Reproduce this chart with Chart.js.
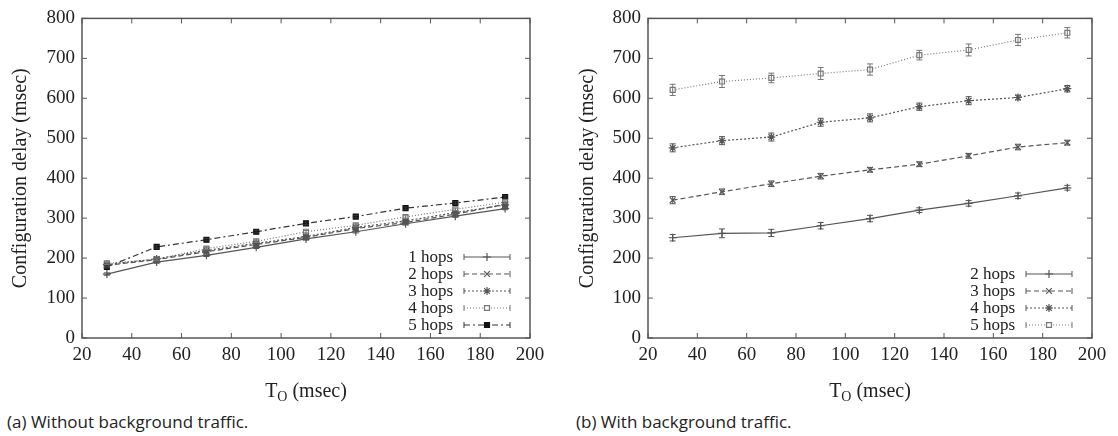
<!DOCTYPE html>
<html>
<head>
<meta charset="utf-8">
<script src="https://cdn.jsdelivr.net/npm/chart.js@4.4.1/dist/chart.umd.min.js"></script>
<style>
  html, body { margin: 0; padding: 0; background: #fff; }
  #wrap { position: relative; width: 1118px; height: 436px; overflow: hidden; }
  .panel { position: absolute; top: 0; width: 559px; height: 408px; }
  .caption { position: absolute; top: 410px; font: 17px "Open Sans", sans-serif; color: #222; line-height: 23px; }
</style>
</head>
<body>
<div id="wrap">
  <div class="panel" style="left:0"><canvas id="chart-a"></canvas></div>
  <div class="panel" style="left:559px"><canvas id="chart-b"></canvas></div>
  <div class="caption" style="left:7px">(a) Without background traffic.</div>
  <div class="caption" style="left:576px">(b) With background traffic.</div>
</div>
<script>
// T_O values (msec)
const toValues = [30, 50, 70, 90, 110, 130, 150, 170, 190];

// (a) no background traffic
const quiet1 = [160, 190, 207, 227, 248, 266, 286, 305, 324];
const quiet2 = [182, 196, 216, 234, 252, 274, 289, 310, 335];
const quiet3 = [184, 198, 219, 237, 254, 277, 293, 314, 333];
const quiet4 = [187, 197, 224, 242, 266, 282, 303, 322, 340];
const quiet5 = [178, 228, 246, 266, 287, 304, 325, 338, 353];
const quietErr = [3, 3, 3, 3, 3, 3, 3, 3, 3];

// (b) with background traffic
const busy2 = [251, 262, 263, 281, 299, 320, 337, 356, 376];
const busy3 = [345, 366, 386, 405, 421, 435, 456, 478, 489];
const busy4 = [476, 494, 503, 540, 551, 579, 594, 602, 624];
const busy5 = [621, 642, 651, 662, 672, 708, 721, 746, 764];
const busy2Err = [8, 11, 9, 8, 8, 6, 7, 7, 6];
const busy3Err = [9, 7, 7, 7, 6, 6, 6, 7, 6];
const busy4Err = [10, 10, 10, 10, 10, 9, 10, 6, 8];
const busy5Err = [14, 15, 12, 15, 14, 12, 15, 14, 13];

const SERIF = '"Liberation Serif", serif';
Chart.defaults.font.family = SERIF;
Chart.defaults.color = '#222';

// line styles, gnuplot-ish
const styles = {
    solid:   { dash: [],            point: 'cross',    fill: '#444', color: '#555' },
    dashed:  { dash: [5, 3],        point: 'crossRot', fill: '#444', color: '#555' },
    dotted:  { dash: [2, 2],        point: 'star',     fill: '#444', color: '#555' },
    fine:    { dash: [1, 2],        point: 'rect',     fill: '#fff', color: '#777' },
    dashdot: { dash: [6, 3, 2, 3],  point: 'rect',     fill: '#111', color: '#333' }
};

function series(label, values, errors, style) {
    const s = styles[style];
    return {
        label: label,
        data: toValues.map((x, i) => ({ x: x, y: values[i] })),
        errors: errors,
        borderColor: s.color,
        borderWidth: 1.2,
        borderDash: s.dash,
        pointStyle: s.point,
        pointRadius: s.point === 'rect' ? 3.5 : 4,
        pointBorderColor: s.point === 'rect' && s.fill === '#111' ? '#111' : s.color,
        pointBackgroundColor: s.fill,
        pointBorderWidth: 1.2,
        tension: 0
    };
}

// error bars, inward ticks, frame, legend and x title
const gnuplotLook = {
    id: 'gnuplotLook',
    afterDatasetsDraw(chart) {
        const ctx = chart.ctx;
        const xs = chart.scales.x, ys = chart.scales.y;
        ctx.save();
        chart.data.datasets.forEach(ds => {
            ctx.strokeStyle = ds.borderColor;
            ctx.lineWidth = 1;
            ctx.setLineDash([]);
            ds.data.forEach((p, i) => {
                const e = ds.errors[i];
                const px = xs.getPixelForValue(p.x);
                const y1 = ys.getPixelForValue(p.y - e);
                const y2 = ys.getPixelForValue(p.y + e);
                ctx.beginPath();
                ctx.moveTo(px, y1); ctx.lineTo(px, y2);
                ctx.moveTo(px - 3, y1); ctx.lineTo(px + 3, y1);
                ctx.moveTo(px - 3, y2); ctx.lineTo(px + 3, y2);
                ctx.stroke();
            });
        });
        ctx.restore();
    },
    afterDraw(chart) {
        const ctx = chart.ctx;
        const a = chart.chartArea;
        const xs = chart.scales.x, ys = chart.scales.y;
        ctx.save();
        ctx.strokeStyle = '#555';
        ctx.lineWidth = 1.5;
        ctx.setLineDash([]);
        ctx.strokeRect(a.left, a.top, a.right - a.left, a.bottom - a.top);
        ctx.lineWidth = 1;
        ctx.beginPath();
        xs.ticks.forEach(t => {
            const px = xs.getPixelForValue(t.value);
            ctx.moveTo(px, a.bottom); ctx.lineTo(px, a.bottom - 5);
            ctx.moveTo(px, a.top); ctx.lineTo(px, a.top + 5);
        });
        ys.ticks.forEach(t => {
            const py = ys.getPixelForValue(t.value);
            ctx.moveTo(a.left, py); ctx.lineTo(a.left + 5, py);
            ctx.moveTo(a.right, py); ctx.lineTo(a.right - 5, py);
        });
        ctx.stroke();

        // legend, bottom right inside the plot
        const textRight = a.right - 77, x1 = a.right - 66, x2 = a.right - 20;
        const n = chart.data.datasets.length;
        ctx.font = '17px ' + SERIF;
        ctx.textAlign = 'right';
        ctx.textBaseline = 'middle';
        chart.data.datasets.forEach((ds, i) => {
            const y = a.bottom - 13 - (n - 1 - i) * 17;
            ctx.fillStyle = '#222';
            ctx.fillText(ds.label, textRight, y + 1);
            ctx.strokeStyle = ds.borderColor;
            ctx.lineWidth = 1;
            ctx.setLineDash(ds.borderDash);
            ctx.beginPath();
            ctx.moveTo(x1, y); ctx.lineTo(x2, y);
            ctx.stroke();
            ctx.setLineDash([]);
            ctx.beginPath();
            ctx.moveTo(x1, y - 3); ctx.lineTo(x1, y + 3);
            ctx.moveTo(x2, y - 3); ctx.lineTo(x2, y + 3);
            ctx.stroke();
            ctx.fillStyle = ds.pointBackgroundColor;
            ctx.strokeStyle = ds.pointBorderColor;
            ctx.lineWidth = ds.pointBorderWidth;
            Chart.helpers.drawPoint(ctx, {
                pointStyle: ds.pointStyle, radius: ds.pointRadius,
                borderWidth: ds.pointBorderWidth, rotation: 0
            }, (x1 + x2) / 2, y);
        });

        // x axis title with subscript
        const cx = (a.left + a.right) / 2, ty = a.bottom + 59;
        ctx.fillStyle = '#222';
        ctx.textAlign = 'left';
        ctx.textBaseline = 'alphabetic';
        const big = '20px ' + SERIF, small = '14px ' + SERIF;
        ctx.font = big;
        const wT = ctx.measureText('T').width;
        const wRest = ctx.measureText(' (msec)').width;
        ctx.font = small;
        const wO = ctx.measureText('O').width;
        let px = cx - (wT + wO + wRest) / 2;
        ctx.font = big;
        ctx.fillText('T', px, ty);
        ctx.font = small;
        ctx.fillText('O', px + wT, ty + 4);
        ctx.font = big;
        ctx.fillText(' (msec)', px + wT + wO, ty);
        ctx.restore();
    }
};

function makeChart(id, datasets, padLeft, yWidth, padRight) {
    return new Chart(document.getElementById(id), {
        type: 'line',
        data: { datasets: datasets },
        plugins: [gnuplotLook],
        options: {
            responsive: true,
            maintainAspectRatio: false,
            animation: false,
            layout: { padding: { left: padLeft, right: padRight, top: 16, bottom: 8 } },
            plugins: { legend: { display: false }, tooltip: { enabled: false } },
            scales: {
                x: {
                    type: 'linear', min: 20, max: 200,
                    ticks: { stepSize: 20, color: '#222', padding: 6, maxRotation: 0,
                             font: { family: SERIF, size: 19 } },
                    grid: { display: false, drawTicks: false },
                    border: { display: false },
                    afterFit: s => { s.height = 62; }
                },
                y: {
                    min: 0, max: 800,
                    ticks: { stepSize: 100, color: '#222', padding: 7,
                             font: { family: SERIF, size: 19 } },
                    grid: { display: false, drawTicks: false },
                    border: { display: false },
                    title: { display: true, text: 'Configuration delay (msec)', color: '#222',
                             font: { family: SERIF, size: 20 }, padding: { top: 0, bottom: 0 } },
                    afterFit: s => { s.width = yWidth; }
                }
            }
        }
    });
}

makeChart('chart-a', [
    series('1 hops', quiet1, quietErr, 'solid'),
    series('2 hops', quiet2, quietErr, 'dashed'),
    series('3 hops', quiet3, quietErr, 'dotted'),
    series('4 hops', quiet4, quietErr, 'fine'),
    series('5 hops', quiet5, quietErr, 'dashdot')
], 9, 73, 29);

makeChart('chart-b', [
    series('2 hops', busy2, busy2Err, 'solid'),
    series('3 hops', busy3, busy3Err, 'dashed'),
    series('4 hops', busy4, busy4Err, 'dotted'),
    series('5 hops', busy5, busy5Err, 'fine')
], 17, 72, 26);
</script>
</body>
</html>
